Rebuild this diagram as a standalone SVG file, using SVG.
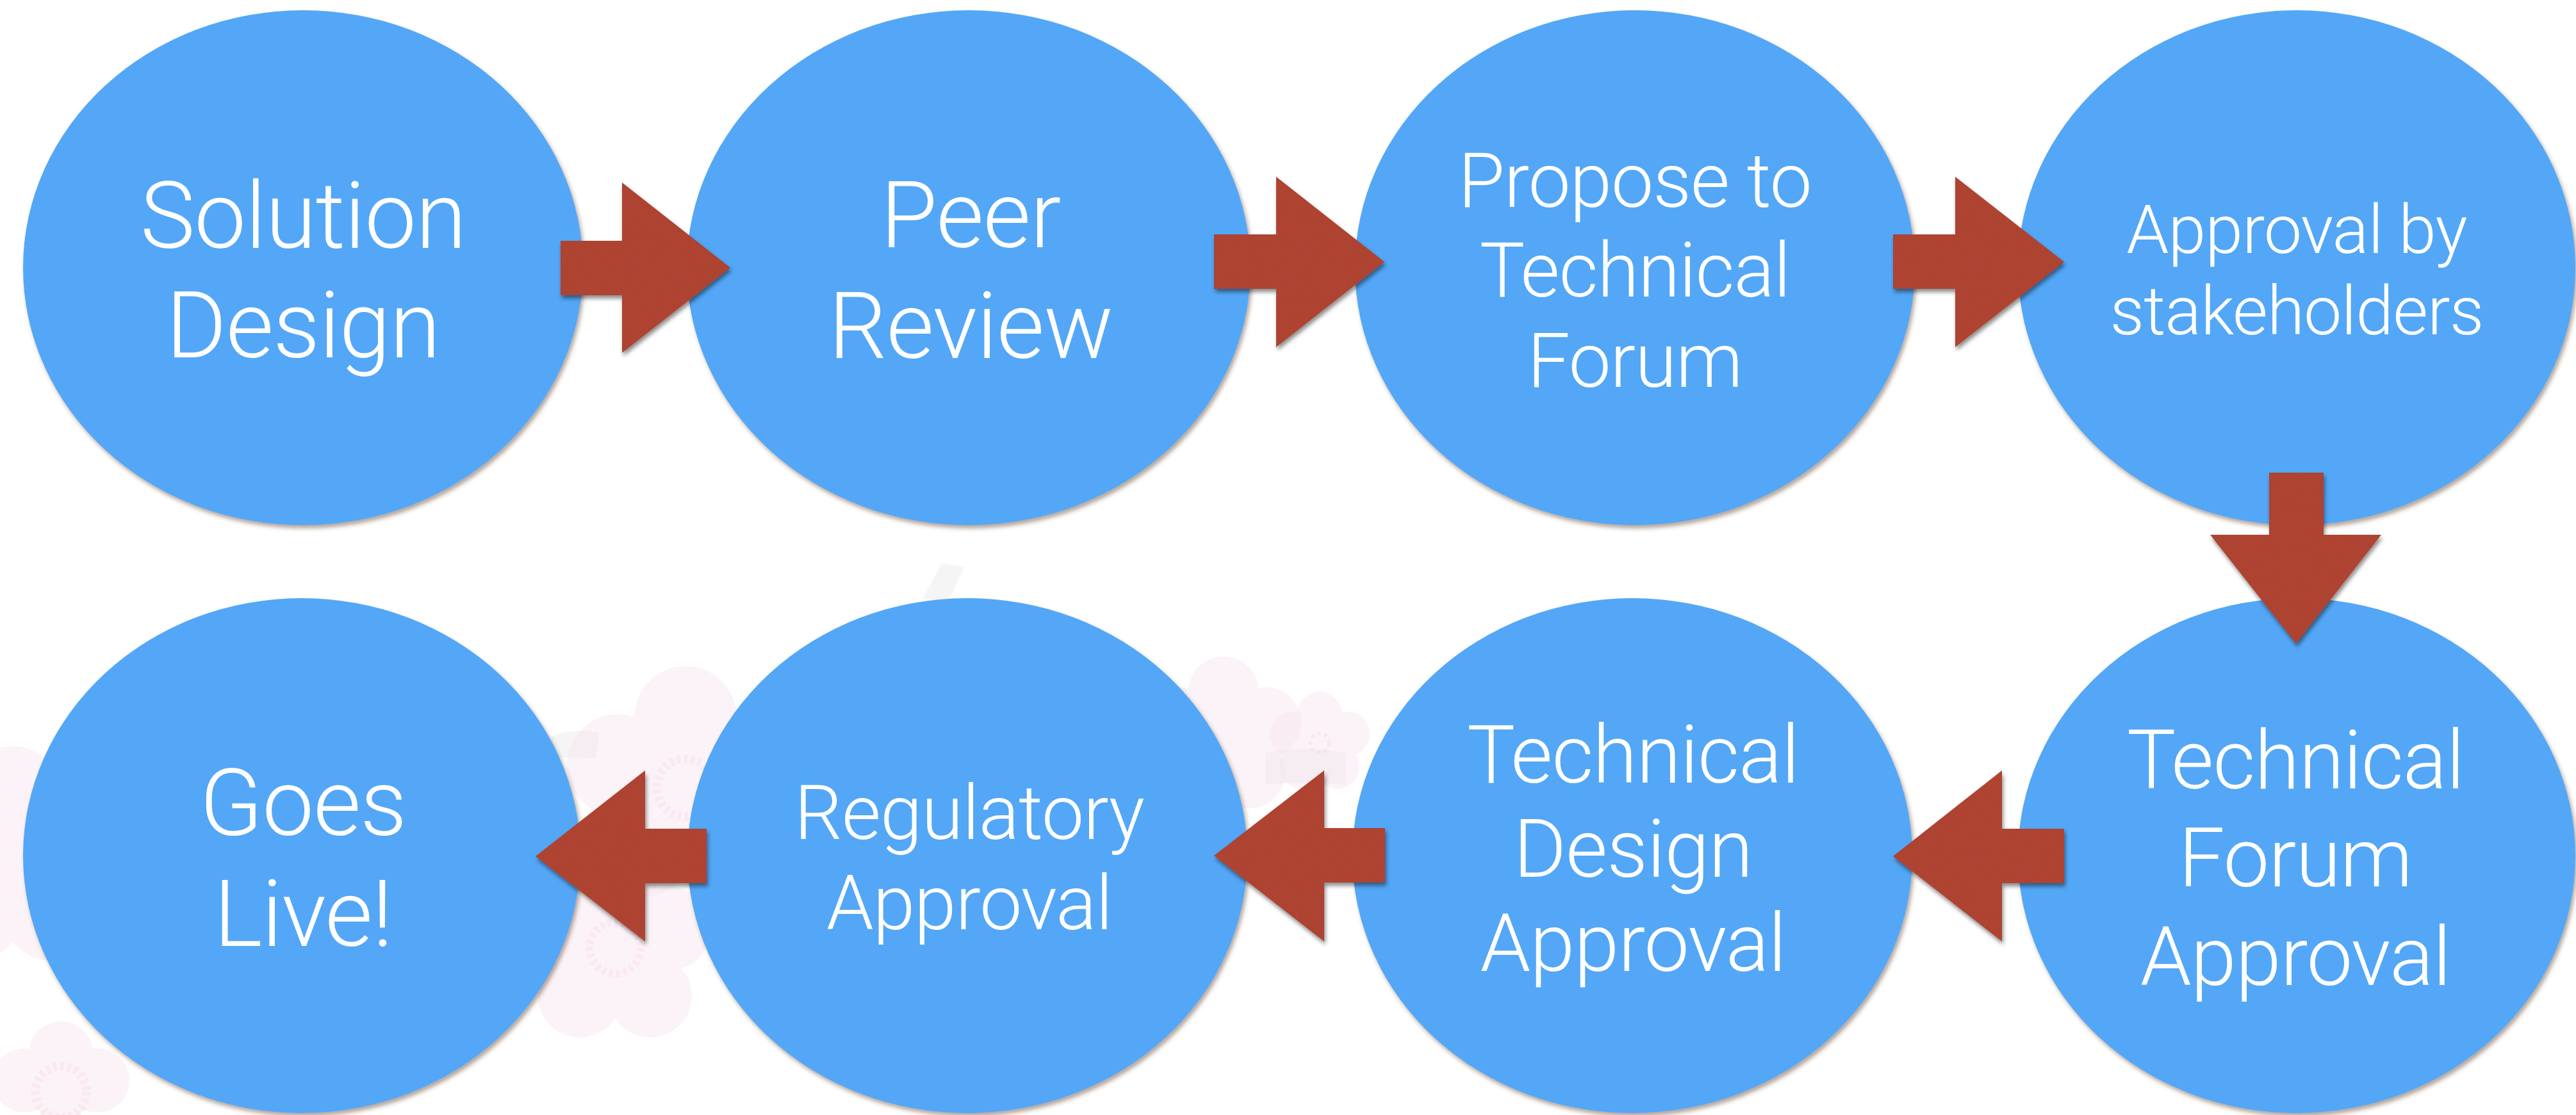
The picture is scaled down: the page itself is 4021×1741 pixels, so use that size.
<svg xmlns="http://www.w3.org/2000/svg" width="4021" height="1741" viewBox="0 0 4021 1741">
<style>
.node { fill: #53A7F6; filter: url(#shE); }
.t { font-family: Roboto, "Liberation Sans", sans-serif; font-weight: 300; fill: #ffffff; text-anchor: middle; letter-spacing: -1px; }
.arrow { fill: #B04332; filter: url(#shA); }
.fl { opacity: 0.4; }
.petal { fill: #f7e3ec; }
.gear { fill: none; stroke: #f3c9dc; stroke-dasharray: 6 5; }
.leaf { fill: #eeeeee; opacity: 0.6; }
</style>
<defs>
<filter id="shE" x="-5%" y="-5%" width="115%" height="115%">
  <feDropShadow dx="3" dy="5" stdDeviation="3" flood-color="#5a3a20" flood-opacity="0.45"/>
</filter>
<filter id="shA" x="-15%" y="-15%" width="135%" height="135%">
  <feGaussianBlur in="SourceAlpha" stdDeviation="3" result="b"/>
  <feOffset in="b" dx="2" dy="5" result="o"/>
  <feFlood flood-color="#000" flood-opacity="0.45"/>
  <feComposite in2="o" operator="in" result="sh"/>
  <feTurbulence type="fractalNoise" baseFrequency="0.6" numOctaves="2" seed="4" result="n"/>
  <feColorMatrix in="n" type="matrix" values="0 0 0 0 0.3  0 0 0 0 0.1  0 0 0 0 0.05  0 0 0 0.35 -0.1" result="na"/>
  <feComposite in="na" in2="SourceAlpha" operator="in" result="tex"/>
  <feMerge><feMergeNode in="sh"/><feMergeNode in="SourceGraphic"/><feMergeNode in="tex"/></feMerge>
</filter>
</defs>
<rect width="4021" height="1741" fill="#ffffff"/>
<g id="background">
  <path class="leaf" d="M1440,935 L1470,880 L1505,885 L1480,940 Z"/>
  <path class="leaf" d="M860,1150 Q900,1135 935,1145 L930,1185 Q895,1180 860,1185 Z"/>
  <path class="leaf" d="M1975,1175 Q2040,1165 2100,1175 L2100,1225 Q2040,1220 1975,1225 Z"/>
  <g class="fl" transform="translate(1070,1230)">
    <circle class="petal" cx="0" cy="-110" r="80"/><circle class="petal" cx="105" cy="-35" r="80"/><circle class="petal" cx="65" cy="90" r="80"/><circle class="petal" cx="-65" cy="90" r="80"/><circle class="petal" cx="-105" cy="-35" r="80"/><circle class="petal" r="70"/>
    <circle class="gear" r="45" stroke-width="14"/>
  </g>
  <g class="fl" transform="translate(960,1480)">
    <circle class="petal" cx="0" cy="-90" r="65"/><circle class="petal" cx="85" cy="-30" r="65"/><circle class="petal" cx="55" cy="75" r="65"/><circle class="petal" cx="-55" cy="75" r="65"/><circle class="petal" cx="-85" cy="-30" r="65"/><circle class="petal" r="60"/>
    <circle class="gear" r="40" stroke-width="12"/>
  </g>
  <g class="fl" transform="translate(2060,1160)">
    <circle class="petal" cx="0" cy="-45" r="35"/><circle class="petal" cx="43" cy="-14" r="35"/><circle class="petal" cx="27" cy="37" r="35"/><circle class="petal" cx="-27" cy="37" r="35"/><circle class="petal" cx="-43" cy="-14" r="35"/><circle class="petal" r="30"/>
    <circle class="gear" r="15" stroke-width="6"/>
  </g>
  <g class="fl" transform="translate(1910,1150)">
    <circle class="petal" cx="0" cy="-70" r="55"/><circle class="petal" cx="66" cy="-22" r="55"/><circle class="petal" cx="41" cy="57" r="55"/><circle class="petal" cx="-41" cy="57" r="55"/><circle class="petal" cx="-66" cy="-22" r="55"/><circle class="petal" r="50"/>
  </g>
  <g class="fl" transform="translate(20,1340)">
    <circle class="petal" cx="0" cy="-100" r="75"/><circle class="petal" cx="95" cy="-30" r="75"/><circle class="petal" cx="60" cy="85" r="75"/><circle class="petal" cx="-60" cy="85" r="75"/><circle class="petal" r="70"/>
  </g>
  <g class="fl" transform="translate(95,1705)">
    <circle class="petal" cx="0" cy="-60" r="50"/><circle class="petal" cx="57" cy="-18" r="50"/><circle class="petal" cx="-57" cy="-18" r="50"/><circle class="petal" r="45"/>
    <circle class="gear" r="40" stroke-width="14"/>
  </g>
</g>
<g id="n1"><ellipse class="node" cx="473" cy="418" rx="437" ry="402"/>
  <text class="t" font-size="144"><tspan x="473" y="387">Solution</tspan><tspan x="473" y="558">Design</tspan></text></g>
<g id="n2"><ellipse class="node" cx="1512" cy="418" rx="440" ry="402"/>
  <text class="t" font-size="144"><tspan x="1515" y="386">Peer</tspan><tspan x="1515" y="559">Review</tspan></text></g>
<g id="n3"><ellipse class="node" cx="2552" cy="418" rx="437" ry="402"/>
  <text class="t" font-size="118"><tspan x="2552" y="323">Propose to</tspan><tspan x="2552" y="463">Technical</tspan><tspan x="2552" y="604">Forum</tspan></text></g>
<g id="n4"><ellipse class="node" cx="3585" cy="418" rx="435" ry="402"/>
  <text class="t" font-size="106"><tspan x="3585" y="395">Approval by</tspan><tspan x="3585" y="522">stakeholders</tspan></text></g>
<g id="n5"><ellipse class="node" cx="3585" cy="1336" rx="435" ry="402"/>
  <text class="t" font-size="128"><tspan x="3583" y="1231">Technical</tspan><tspan x="3583" y="1384">Forum</tspan><tspan x="3583" y="1538">Approval</tspan></text></g>
<g id="n6"><ellipse class="node" cx="2548" cy="1336" rx="437" ry="402"/>
  <text class="t" font-size="126"><tspan x="2549" y="1222">Technical</tspan><tspan x="2549" y="1369">Design</tspan><tspan x="2549" y="1516">Approval</tspan></text></g>
<g id="n7"><ellipse class="node" cx="1510" cy="1336" rx="437" ry="402"/>
  <text class="t" font-size="118"><tspan x="1513" y="1310">Regulatory</tspan><tspan x="1513" y="1451">Approval</tspan></text></g>
<g id="n8"><ellipse class="node" cx="471" cy="1336" rx="435" ry="402"/>
  <text class="t" font-size="144"><tspan x="473" y="1304">Goes</tspan><tspan x="473" y="1477">Live!</tspan></text></g>
<g id="connectors">
  <polygon class="arrow" points="875,376 971,376 971,285 1140,418 971,551 971,461 875,461"/>
  <polygon class="arrow" points="1895,366 1992,366 1992,276 2161,409 1992,542 1992,451 1895,451"/>
  <polygon class="arrow" points="2955,366 3052,366 3052,276 3222,409 3052,542 3052,451 2955,451"/>
  <polygon class="arrow" points="3542,738 3627,738 3627,835 3717,835 3584,1005 3450,835 3542,835"/>
  <polygon class="arrow" points="3222,1294 3125,1294 3125,1203 2955,1337 3125,1470 3125,1379 3222,1379"/>
  <polygon class="arrow" points="2162,1293 2067,1293 2067,1203 1895,1336 2067,1470 2067,1378 2162,1378"/>
  <polygon class="arrow" points="1103,1294 1007,1294 1007,1203 836,1337 1007,1470 1007,1379 1103,1379"/>
</g>
</svg>
